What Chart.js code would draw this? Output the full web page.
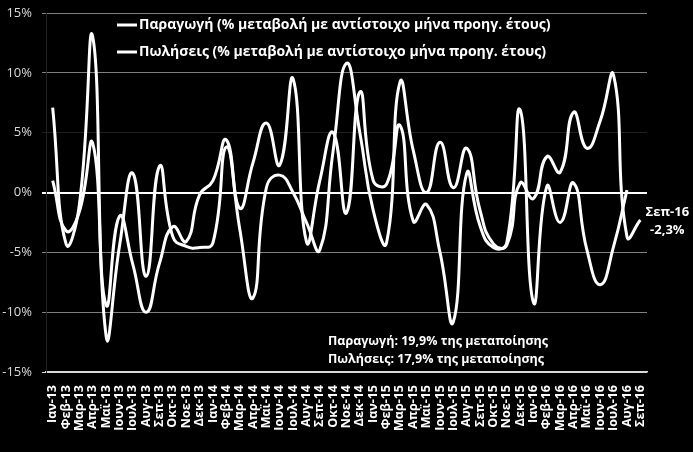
<!DOCTYPE html>
<html>
<head>
<meta charset="utf-8">
<script src="https://cdn.jsdelivr.net/npm/chart.js@4.4.1/dist/chart.umd.min.js"></script>
<style>
  html, body { margin: 0; padding: 0; background: #000; }
  #wrap { position: relative; width: 693px; height: 452px; }
</style>
</head>
<body>
<div id="wrap"><canvas id="chart"></canvas></div>
<script>
// Months Jan-13 .. Sep-16
var LABELS = [
  'Ιαν-13', 'Φεβ-13', 'Μαρ-13', 'Απρ-13', 'Μαϊ-13', 'Ιουν-13', 'Ιουλ-13', 'Αυγ-13', 'Σεπ-13', 'Οκτ-13', 'Νοε-13', 'Δεκ-13',
  'Ιαν-14', 'Φεβ-14', 'Μαρ-14', 'Απρ-14', 'Μαϊ-14', 'Ιουν-14', 'Ιουλ-14', 'Αυγ-14', 'Σεπ-14', 'Οκτ-14', 'Νοε-14', 'Δεκ-14',
  'Ιαν-15', 'Φεβ-15', 'Μαρ-15', 'Απρ-15', 'Μαϊ-15', 'Ιουν-15', 'Ιουλ-15', 'Αυγ-15', 'Σεπ-15', 'Οκτ-15', 'Νοε-15', 'Δεκ-15',
  'Ιαν-16', 'Φεβ-16', 'Μαρ-16', 'Απρ-16', 'Μαϊ-16', 'Ιουν-16', 'Ιουλ-16', 'Αυγ-16', 'Σεπ-16'
];

// % change vs same month of previous year
var PRODUCTION = [
  7.1, -4.3, -1.0, 13.0, -12.0, -4.5, 1.6, -7.0, 2.2, -3.7, -4.5, -4.6,
  -4.2, 3.8, -3.0, -8.8, 0.4, 1.45, 0.0, -2.5, -4.8, 3.5, 10.8, 5.0,
  -1.5, -4.2, 9.2, 3.5, 0.0, 4.2, 0.4, 3.7, -1.5, -4.3, -4.4, 0.8,
  -0.5, 3.0, 1.7, 6.7, 3.7, 6.0, 9.8, -3.7, -2.3
];
var SALES = [
  1.0, -3.2, -1.6, 4.1, -9.4, -2.0, -6.0, -10.0, -5.9, -2.85, -4.1, -0.2,
  1.0, 4.4, -1.3, 2.5, 5.8, 2.3, 9.5, -4.1, 1.0, 5.0, -1.7, 8.4,
  1.0, 0.7, 5.6, -2.4, -1.0, -5.0, -10.8, 1.6, -2.8, -4.6, -4.2, 6.9,
  -9.2, 0.5, -2.5, 0.8, -4.8, -7.7, -4.5, 0.2, null
];

var SERIES_NAMES = [
  'Παραγωγή (% μεταβολή με αντίστοιχο μήνα προηγ. έτους)',
  'Πωλήσεις (% μεταβολή με αντίστοιχο μήνα προηγ. έτους)'
];
var NOTES = [
  'Παραγωγή: 19,9% της μεταποίησης',
  'Πωλήσεις: 17,9% της μεταποίησης'
];
var LAST_LABEL = 'Σεπ-16';
var LAST_VALUE_TEXT = '-2,3%';

var FONT = "'Open Sans', 'Noto Sans', sans-serif";

// legend, notes and last-value callout drawn over the plot
var overlayText = {
  id: 'overlayText',
  afterDraw: function (chart) {
    var ctx = chart.ctx;
    var xs = chart.scales.x, ys = chart.scales.y;
    ctx.save();
    ctx.fillStyle = '#fff';
    ctx.strokeStyle = '#fff';
    ctx.textBaseline = 'middle';

    // legend
    ctx.font = 'bold 14px ' + FONT;
    ctx.lineWidth = 3;
    SERIES_NAMES.forEach(function (name, i) {
      var y = 25 + i * 27;
      ctx.beginPath();
      ctx.moveTo(117, y);
      ctx.lineTo(137, y);
      ctx.stroke();
      ctx.fillText(name, 139, y);
    });

    // weights note
    ctx.font = 'bold 12.5px ' + FONT;
    NOTES.forEach(function (t, i) {
      ctx.fillText(t, 328, 341 + i * 18);
    });

    // last value callout
    var last = PRODUCTION.length - 1;
    var px = xs.getPixelForValue(last);
    var py = ys.getPixelForValue(PRODUCTION[last]);
    ctx.font = 'bold 13px ' + FONT;
    ctx.textAlign = 'center';
    ctx.fillText(LAST_LABEL, px + 27, py - 8);
    ctx.fillText(LAST_VALUE_TEXT, px + 27, py + 10);
    ctx.restore();
  }
};

function lineDs(label, data) {
  return {
    label: label,
    data: data,
    borderColor: '#ffffff',
    borderWidth: 3,
    pointRadius: 0,
    tension: 0.5,
    fill: false
  };
}

new Chart(document.getElementById('chart').getContext('2d'), {
  type: 'line',
  data: {
    labels: LABELS,
    datasets: [lineDs(SERIES_NAMES[0], PRODUCTION), lineDs(SERIES_NAMES[1], SALES)]
  },
  options: {
    responsive: true,
    maintainAspectRatio: false,
    animation: false,
    layout: { padding: { top: 13, right: 46, left: 0, bottom: 0 } },
    scales: {
      x: {
        offset: true,
        grid: { display: false },
        border: { display: true, color: '#d9d9d9', width: 1.5 },
        ticks: {
          color: '#ffffff',
          font: { family: FONT, size: 12.5, weight: 'bold' },
          minRotation: 90,
          maxRotation: 90,
          autoSkip: false,
          padding: 5
        },
        afterFit: function (axis) { axis.height = 80; }
      },
      y: {
        min: -15,
        max: 15,
        ticks: {
          stepSize: 5,
          color: '#d9d9d9',
          font: { family: FONT, size: 13 },
          padding: 10,
          callback: function (v) { return v + '%'; }
        },
        grid: {
          tickLength: 4,
          color: function (c) {
            var v = c.tick && c.tick.value;
            if (v === 0) return '#ffffff';
            if (v === 5) return '#1f1f1f';
            if (v === -15) return '#d9d9d9';
            return '#7f7f7f';
          },
          lineWidth: function (c) {
            return c.tick && c.tick.value === 0 ? 2 : 1;
          }
        },
        border: { display: true, color: '#222222' },
        afterFit: function (axis) {
          axis.width = 46;
          axis.paddingTop = 0;
          axis.paddingBottom = 0;
        }
      }
    },
    plugins: {
      legend: { display: false },
      tooltip: { enabled: false }
    }
  },
  plugins: [overlayText]
});
</script>
</body>
</html>
